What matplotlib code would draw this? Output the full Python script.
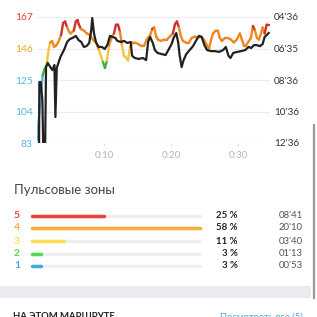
import numpy as np
import matplotlib
matplotlib.use("Agg")
import matplotlib.pyplot as plt
from matplotlib.collections import LineCollection

plt.rcParams["font.family"] = ["Lato", "DejaVu Sans"]

# heart rate (bpm) vs elapsed minutes
hr_t = [0, 0.45, 0.85, 1.1, 1.45, 1.65, 1.95, 2.25, 2.55, 2.85, 3.15, 3.6, 3.9, 4.2, 4.5,
        4.8, 5.05, 5.5, 5.8, 6.05, 6.25, 6.55, 7.0, 7.45, 7.9, 8.35, 8.8, 9.25, 9.55, 9.85,
        10.15, 10.45, 10.75, 11.2, 11.5, 11.8, 12.1, 12.4, 12.7, 13.0, 13.3, 13.6, 13.9,
        14.2, 14.6, 15.1, 15.5, 16.0, 16.4, 16.9, 17.2, 17.5, 17.8, 18.05, 18.5, 18.95,
        19.4, 19.85, 20.3, 20.6, 20.9, 21.2, 21.5, 21.8, 22.25, 22.7, 23.1, 23.6, 24.0,
        24.5, 24.9, 25.4, 25.7, 26.0, 26.3, 26.7, 27.0, 27.3, 27.6, 28.05, 28.5, 28.95,
        29.4, 29.85, 30.3, 30.6, 30.9, 31.2, 31.65, 31.95, 32.25, 32.55, 32.85, 33.15,
        33.45, 33.7, 34.0, 34.3, 34.6]
hr_bpm = [85, 108, 128, 132, 135, 143, 150, 151, 147, 148, 150, 155, 163, 164, 160,
          157, 156, 158, 164, 165, 162, 159, 158, 156, 155, 152, 150, 145, 141, 137,
          133, 138, 148, 154, 156, 162, 162, 157, 148, 141, 140, 138, 147,
          150, 150, 149, 148, 148, 152, 155, 159, 160, 154, 152, 151, 152,
          152, 154, 156, 162, 164, 160, 154, 151, 150, 150, 153, 154, 154,
          154, 152, 148, 146, 152, 156, 158, 158, 153, 151, 153, 153, 152,
          150, 152, 156, 152, 148, 148, 151, 153, 161, 158, 153, 152,
          156, 160, 156, 162, 162]

# pace (seconds per km) vs elapsed minutes
pace_t = [0, 0.3, 0.35, 0.55, 0.8, 0.95, 1.2, 1.35, 1.6, 2.0, 2.3, 2.6, 2.75, 2.95, 3.2,
          3.5, 3.8, 4.1, 4.5, 4.9, 5.3, 5.8, 6.2, 6.6, 7.0, 7.4, 7.8, 8.1, 8.25, 8.5,
          8.8, 9.2, 9.7, 10.1, 10.5, 10.9, 11.3, 11.7, 12.0, 12.5, 13.0, 13.5, 14.0,
          14.2, 14.6, 15.2, 15.8, 16.3, 16.6, 16.9, 17.3, 17.6, 18.0, 18.6, 19.2, 19.7,
          20.1, 20.4, 20.8, 21.1, 21.3, 21.6, 21.9, 22.3, 22.8, 23.3, 23.8, 24.2, 24.6,
          25.0, 25.4, 26.0, 26.6, 27.2, 27.8, 28.2, 28.6, 28.9, 29.3, 29.9, 30.5, 31.1,
          31.6, 32.0, 32.4, 32.8, 33.3, 33.7, 34.0, 34.3, 34.6]
pace_s = [800, 800, 524, 524, 592, 800, 800, 467, 451, 467, 478, 459, 657, 470, 451,
          428, 413, 398, 371, 360, 356, 348, 364, 371, 390, 387, 375, 326, 280, 337,
          371, 390, 390, 398, 383, 348, 352, 356, 367, 371, 367, 375, 371,
          424, 432, 436, 432, 440, 371, 352, 375, 402, 413, 417, 421, 398,
          379, 356, 337, 375, 421, 467, 440, 417, 402, 387, 364, 348, 352,
          383, 402, 406, 406, 409, 402, 390, 424, 432, 413, 409, 406, 402,
          390, 394, 383, 383, 387, 379, 352, 345, 337]

hr_ticks = [83, 104, 125, 146, 167]
hr_tick_colors = ["#5ab4e5", "#5ab4e5", "#5ab4e5", "#f5a623", "#e0403a"]
pace_ticks = [276, 396, 516, 636, 756]
pace_labels = ["04'36", "06'35", "08'36", "10'36", "12'36"]
time_ticks = [10, 20, 30]
time_labels = ["0:10", "0:20", "0:30"]

zone_names = ["5", "4", "3", "2", "1"]
zone_pct = [25, 58, 11, 3, 3]
zone_time = ["08'41", "20'10", "03'40", "01'13", "00'53"]
zone_colors = ["#e8443a", "#f5ad3c", "#fbdc55", "#53d45b", "#4aa8e0"]
line_colors = ["#d3302c", "#f0861f", "#f5c440", "#3faf3f", "#5ab4e5"]
zone_floor = [159, 147, 139, 129, -1]

W = H = 317.0
fig = plt.figure(figsize=(3.17, 3.17), dpi=100)
fig.patch.set_facecolor("white")


def fx(px):
    return px / W


def fy(py):
    return 1 - py / H


def zone_of(v):
    for i, lo in enumerate(zone_floor):
        if v >= lo:
            return i
    return 4


# --- chart ---
ax = fig.add_axes([fx(37), fy(143), fx(270) - fx(37), fy(17) - fy(143)])
ax.set_xlim(0, 34.8)
ax.set_ylim(83, 167)
for s in ax.spines.values():
    s.set_visible(False)
ax.axvline(34.8, color="#eeeeee", lw=0.8, zorder=0)
ax.set_yticks(hr_ticks)
ax.set_yticklabels([str(v) for v in hr_ticks], fontsize=7.4)
for lab, c in zip(ax.get_yticklabels(), hr_tick_colors):
    lab.set_color(c)
ax.tick_params(axis="y", length=0, pad=3)
ax.grid(True, axis="y", color="#ececec", lw=0.8)
ax.set_xticks(time_ticks)
ax.set_xticklabels(time_labels, fontsize=7, color="#b5b5b5")
ax.tick_params(axis="x", length=2.5, color="#dddddd", pad=3)

pts = np.column_stack([hr_t, hr_bpm])
segs = np.stack([pts[:-1], pts[1:]], axis=1)
mids = (np.array(hr_bpm[:-1]) + np.array(hr_bpm[1:])) / 2
cols = [line_colors[zone_of(v)] for v in mids]
ax.add_collection(LineCollection(segs, colors=cols, lw=1.7, capstyle="round",
                                 joinstyle="round", zorder=2))

ax2 = ax.twinx()
ax2.set_ylim(756, 276)
for s in ax2.spines.values():
    s.set_visible(False)
ax2.set_yticks(pace_ticks)
ax2.set_yticklabels(pace_labels, fontsize=7.2, color="#333333")
ax2.tick_params(axis="y", length=0, pad=3)
ax2.plot(pace_t, pace_s, color="#222222", lw=1.6, solid_joinstyle="round", zorder=3)

# --- heart rate zones ---
fig.text(fx(14), fy(190), "Пульсовые зоны", fontsize=9.5, color="#444444", va="center")
row_y = [215.5, 228, 241, 253.5, 266]
bar_l, bar_r = 32, 200
lx = fig.add_axes([0, 0, 1, 1])
lx.set_xlim(0, W)
lx.set_ylim(H, 0)
lx.axis("off")
lx.patch.set_alpha(0)
top = max(zone_pct)
for name, p, tm, c, y in zip(zone_names, zone_pct, zone_time, zone_colors, row_y):
    lx.plot([bar_l, bar_r], [y, y], color="#efefef", lw=2.5, solid_capstyle="round")
    lx.plot([bar_l, bar_l + (bar_r - bar_l) * p / top], [y, y], color=c, lw=2.5,
            solid_capstyle="round")
    lx.text(14, y, name, color=c, fontsize=7.5, fontweight="bold", va="center")
    lx.text(238, y, f"{p} %", color="#222222", fontsize=6.9, fontweight="bold",
            va="center", ha="right")
    lx.text(303, y, tm, color="#555555", fontsize=6.9, va="center", ha="right")

# separator band, scrollbar and the next section peeking in
lx.fill_between([0, 311], 286, 298, color="#e9ebee", lw=0)
lx.plot([313.5, 313.5], [125, 298], color="#9a9a9a", lw=1.6)
lx.text(13, 312, "НА ЭТОМ МАРШРУТЕ", fontsize=6.8, fontweight="bold", color="#222222",
        va="top")
lx.text(303, 312, "Посмотреть все (5)", fontsize=6.8, color="#4aa8e0", va="top", ha="right")

fig.savefig("out.png", dpi=100, facecolor="white")
